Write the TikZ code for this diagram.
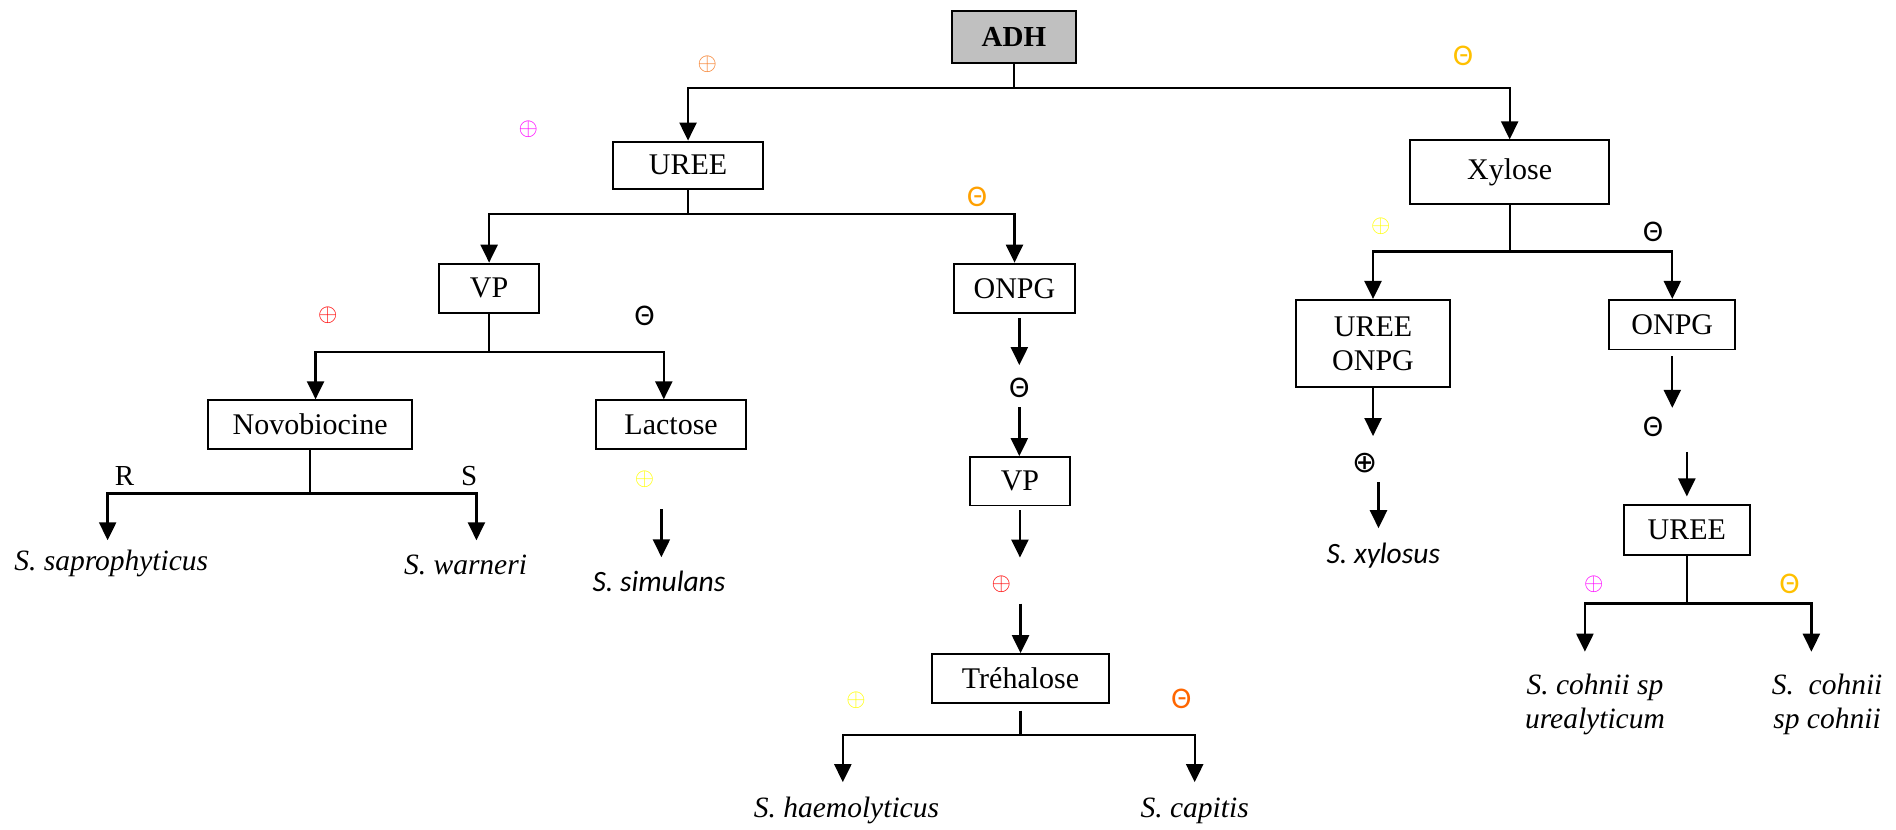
\documentclass[tikz,border=0pt]{standalone}
\usepackage{fontspec}
\setmainfont{Liberation Serif}
\newfontfamily\calib{Carlito}
\newfontfamily\dejavu{DejaVu Sans}
\usetikzlibrary{arrows.meta}
\definecolor{cOrange}{RGB}{245,125,40}
\definecolor{cMag}{RGB}{255,0,255}
\definecolor{cGold}{RGB}{255,192,0}
\definecolor{cOrange2}{RGB}{255,160,0}
\definecolor{cRed}{RGB}{255,0,0}
\definecolor{cYel}{RGB}{255,255,0}
\definecolor{cOrRed}{RGB}{255,102,0}
\definecolor{boxgray}{RGB}{192,192,192}
\begin{document}
\begin{tikzpicture}[x=1.2092pt, y=-1.2092pt,
  box/.style={draw, line width=1.9pt, inner sep=0pt, font=\fontsize{30}{34}\selectfont},
  conn/.style={line width=2.3pt},
  arr/.style={conn, -{Triangle[length=18pt,width=17pt]}},
  spec/.style={inner sep=0pt, text height=19pt, text depth=7pt, font=\fontsize{29.5}{34}\selectfont\itshape},
  specsans/.style={inner sep=0pt, text height=19pt, text depth=7pt, font=\fontsize{29.5}{34}\calib\itshape},
  spectwo/.style={inner sep=0pt, anchor=north, align=center, font=\fontsize{29.5}{34}\selectfont\itshape},
  plus/.style={inner sep=0pt, font=\fontsize{29}{29}\selectfont},
  minus/.style={inner sep=0pt, font=\fontsize{30}{30}\calib},
  lbl/.style={inner sep=0pt, font=\fontsize{29}{29}\selectfont},
]
\useasboundingbox (0,0) rectangle (1568,686);

% boxes
\node[box, fill=boxgray, minimum width=124.5pt, minimum height=52pt, font=\fontsize{29}{33}\selectfont\bfseries] (adh) at (838.5,30.5) {ADH};
\node[box, minimum width=150pt, minimum height=47pt] (uree1) at (569,136.5) {UREE};
\node[box, minimum width=199.5pt, minimum height=64pt] (xyl) at (1248.5,142.5) {Xylose};
\node[box, minimum width=100pt, minimum height=49.6pt] (vp1) at (404.5,238.5) {VP};
\node[box, minimum width=121pt, minimum height=49.6pt] (onpg1) at (839,238.5) {ONPG};
\node[box, minimum width=204pt, minimum height=48.4pt] (novo) at (256.5,351) {Novobiocine};
\node[box, minimum width=150pt, minimum height=48.4pt] (lact) at (555,351) {Lactose};
\node[box, minimum width=100pt, minimum height=48.4pt] (vp2) at (843.5,398) {VP};
\node[box, minimum width=176.5pt, minimum height=48.4pt] (treh) at (844,561) {Tréhalose};
\node[box, minimum width=153.5pt, minimum height=87pt, align=center] (uo) at (1135.5,284) {UREE\\ONPG};
\node[box, minimum width=125.8pt, minimum height=49.6pt] (onpg2) at (1383,268.5) {ONPG};
\node[box, minimum width=125.8pt, minimum height=49.6pt] (uree2) at (1395,438.5) {UREE};

% species
\node[spec] (sapro) at (92,467) {S. saprophyticus};
\node[spec] (warn) at (385,470) {S. warneri};
\node[specsans] (simul) at (545,484) {S. simulans};
\node[spec] (haemo) at (700,671) {S. haemolyticus};
\node[spec] (capit) at (988,671) {S. capitis};
\node[specsans] (xylo) at (1144,461) {S. xylosus};
\node[spectwo] (coh1) at (1319,557) {S. cohnii sp\\urealyticum};
\node[spectwo] (coh2) at (1511,557) {S.\ \ cohnii\\sp cohnii};

% signs
\node[plus, text=cOrange] (p1) at (585,53) {$\oplus$};
\node[plus, text=cMag] (p2) at (437,107) {$\oplus$};
\node[minus, text=cGold] (m1) at (1210,46) {Θ};
\node[minus, text=cOrange2] (m2) at (808,163) {Θ};
\node[plus, text=cRed] (p3) at (271,261) {$\oplus$};
\node[minus] (m3) at (533,261) {Θ};
\node[plus, text=cYel] (pl) at (533,396) {$\oplus$};
\node[minus] (mm) at (843,321) {Θ};
\node[plus, text=cRed] (pm) at (828,483) {$\oplus$};
\node[plus, text=cYel] (p4) at (708,579) {$\oplus$};
\node[minus, text=cOrRed] (m4) at (977,578) {Θ};
\node[plus, text=cYel] (p5) at (1142,187) {$\oplus$};
\node[minus] (m5) at (1367,192) {Θ};
\node[inner sep=0pt, font=\fontsize{30}{30}\dejavu] (pk) at (1129,383) {⊕};
\node[minus] (mr) at (1367,353) {Θ};
\node[plus, text=cMag] (p6) at (1318,483) {$\oplus$};
\node[minus, text=cGold] (m6) at (1480,483) {Θ};
\node[lbl] (lr) at (103,394) {R};
\node[lbl] (ls) at (388,394) {S};

% junctions
\coordinate (j1) at (838.5,73);
\coordinate (j2) at (569,177);
\coordinate (j3) at (404.5,291);
\coordinate (j4) at (256.5,408);
\coordinate (j6) at (844,608);
\coordinate (j7) at (1248.5,208);
\coordinate (j8) at (1395,499);

% ADH
\draw[conn] (adh.south) -- (j1);
\draw[arr] (j1) -| (uree1.north);
\draw[arr] (j1) -| (xyl.north);
% UREE
\draw[conn] (uree1.south) -- (j2);
\draw[arr] (j2) -| (vp1.north);
\draw[arr] (j2) -| (onpg1.north);
% VP
\draw[conn] (vp1.south) -- (j3);
\draw[arr] (j3) -| ([xshift=5.4pt]novo.north);
\draw[arr] (j3) -| ([xshift=-7.3pt]lact.north);
% Novobiocine
\draw[conn] (novo.south) -- (j4);
\draw[arr, shorten >=11.2pt] (j4) -| ([xshift=-3.6pt]sapro.north);
\draw[arr, shorten >=14.8pt] (j4) -| ([xshift=10.9pt]warn.north);
% Lactose
\draw[arr, shorten <=22pt, shorten >=14.8pt] ([xshift=2.4pt]simul.north |- pl.south) -- ([xshift=2.4pt]simul.north);
% ONPG middle chain
\draw[arr, shorten <=4pt, shorten >=13pt] (onpg1.south -| mm.north) -- (mm.north);
\draw[arr, shorten <=9pt] (mm.south) -- (mm.south |- vp2.north);
\draw[arr, shorten <=3.6pt, shorten >=18pt] (vp2.south) -- (vp2.south |- pm.north);
\draw[arr, shorten <=11pt] (treh.north |- pm.south) -- (treh.north);
\draw[conn, shorten <=7pt] (treh.south) -- (j6);
\draw[arr, shorten >=16pt] (j6) -| ([xshift=-3.6pt]haemo.north);
\draw[arr, shorten >=16pt] (j6) -| (capit.north);
% Xylose
\draw[conn] (xyl.south) -- (j7);
\draw[arr] (j7) -| (uo.north);
\draw[arr] (j7) -| (onpg2.north);
\draw[arr, shorten >=17pt] (uo.south) -- (uo.south |- pk.north);
\draw[arr, shorten <=9pt, shorten >=16pt] ([xshift=-4.8pt]xylo.north |- pk.south) -- ([xshift=-4.8pt]xylo.north);
\draw[arr, shorten <=6pt, shorten >=9pt] (onpg2.south) -- (onpg2.south |- mr.north);
\draw[arr, shorten <=15pt, shorten >=8pt] (uree2.north |- mr.south) -- (uree2.north);
\draw[conn] (uree2.south) -- (j8);
\draw[arr, shorten >=21.8pt] (j8) -| ([xshift=-10pt]coh1.north);
\draw[arr, shorten >=21.8pt] (j8) -| ([xshift=-15.7pt]coh2.north);
\end{tikzpicture}
\end{document}
